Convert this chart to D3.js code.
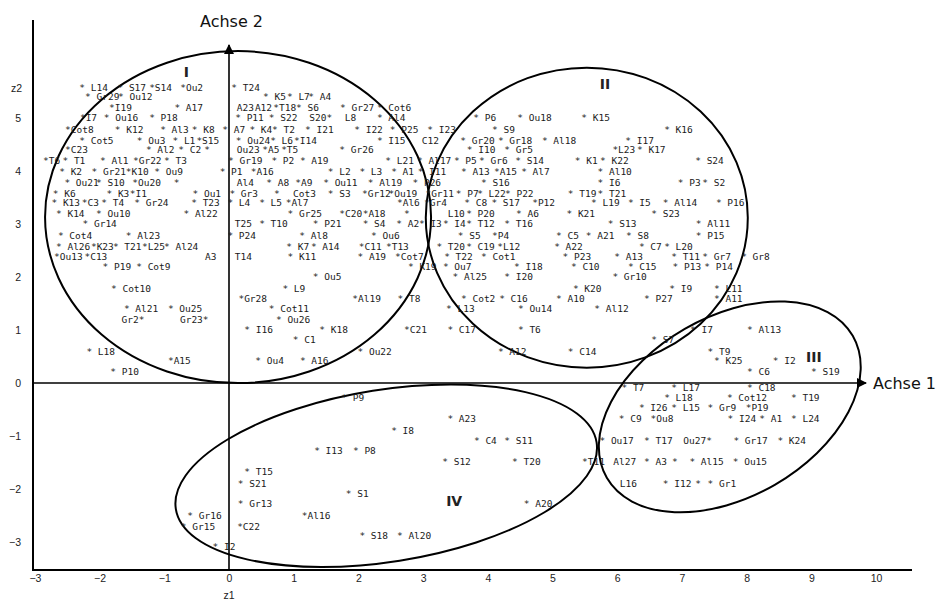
<!DOCTYPE html>
<html><head><meta charset="utf-8">
<script src="https://cdn.jsdelivr.net/npm/d3@7/dist/d3.min.js"></script>
<style>body{margin:0;background:#fff}</style>
</head><body>
<svg id="c" width="940" height="603"></svg>
<script>
const xTicks = [-3,-2,-1,0,1,2,3,4,5,6,7,8,9,10];
const yTicks = [-3,-2,-1,0,1,2,3,4,5];

// labelled points: [text incl. star, x, y]; star is the point
const pointsTop = [
["* L14",-2.27,5.58],["* S17",-1.68,5.58],["*S14",-1.19,5.58],["*Ou2",-0.71,5.58],["* T24",0.08,5.58],
["* Gr29",-2.18,5.40],["* Ou12",-1.67,5.40],["* K5",0.57,5.40],["* L7",0.94,5.40],["* A4",1.27,5.40],
["*I19",-1.81,5.19],["* A17",-0.80,5.19],["A23",0.12,5.19],["A12",0.40,5.19],["*T18",0.73,5.19],["* S6",1.08,5.19],["* Gr27",1.76,5.19],["* Cot6",2.33,5.19],
["*I7",-2.26,5.00],["* Ou16",-1.89,5.00],["* P18",-1.19,5.00],["* P11",0.14,5.00],["* S22",0.66,5.00],["S20*",1.55,5.00],["L8",1.79,5.00],["* Al4",2.33,5.00],["* P6",3.82,5.00],["* Ou18",4.50,5.00],["* K15",5.49,5.00],
["*Cot8",-2.49,4.79],["* K12",-1.72,4.79],["* Al3",-1.02,4.79],["* K8",-0.53,4.79],["* A7",-0.06,4.79],["* K4",0.36,4.79],["* T2",0.71,4.79],["* I21",1.22,4.79],["* I22",1.98,4.79],["* P25",2.53,4.79],["* I23",3.11,4.79],["* S9",4.11,4.79],["* K16",6.77,4.79],
["* Cot5",-2.27,4.58],["* Ou3",-1.38,4.58],["* L1",-0.83,4.58],["*S15",-0.46,4.58],["* Ou24",0.15,4.58],["* L6",0.68,4.58],["*I14",1.05,4.58],["* I15",2.33,4.58],["C12",2.98,4.58],["* Gr20",3.62,4.58],["* Gr18",4.20,4.58],["* Al18",4.88,4.58],["* I17",6.17,4.58],
["*C23",-2.49,4.40],["* Al2",-1.24,4.40],["* C2",-0.74,4.40],["*",-0.34,4.40],["Ou23",0.12,4.40],["*A5",0.56,4.40],["*T5",0.85,4.40],["* Gr26",1.75,4.40],["* I10",3.72,4.40],["* Gr5",4.30,4.40],["*L23",5.97,4.40],["* K17",6.35,4.40],
["*T6",-2.83,4.19],["* T1",-2.53,4.19],["* Al1",-1.95,4.19],["*Gr22",-1.44,4.19],["* T3",-0.96,4.19],["* Gr19",0.03,4.19],["* P2",0.70,4.19],["* A19",1.14,4.19],["* L21",2.46,4.19],["* Al17",2.95,4.19],["* P5",3.52,4.19],["* Gr6",3.91,4.19],["* S14",4.47,4.19],["* K1",5.39,4.19],["* K22",5.78,4.19],["* S24",7.25,4.19],
["* K2",-2.58,3.98],["* Gr21",-2.08,3.98],["*K10",-1.55,3.98],["* Ou9",-1.11,3.98],["* P1",-0.10,3.98],["*A16",0.38,3.98],["* L2",1.57,3.98],["* L3",2.06,3.98],["* A1",2.55,3.98],["* I11",2.96,3.98],["* A13",3.63,3.98],["*A15",4.14,3.98],["* Al7",4.56,3.98],["* Al10",5.74,3.98],
["* Ou21",-2.50,3.79],["* S10",-2.01,3.79],["*Ou20",-1.45,3.79],["*",-0.81,3.79],["Al4",0.12,3.79],["* A8",0.62,3.79],["*A9",1.07,3.79],["* Ou11",1.50,3.79],["* Al19",2.19,3.79],["* P26",2.88,3.79],["* S16",3.94,3.79],["* I6",5.74,3.79],["* P3",6.98,3.79],["* S2",7.36,3.79],
["* K6",-2.68,3.58],["* K3",-1.85,3.58],["*I1",-1.49,3.58],["* Ou1",-0.52,3.58],["* Gr3",0.05,3.58],["*",0.74,3.58],["Cot3",0.99,3.58],["* S3",1.57,3.58],["*Gr12",2.10,3.58],["*Ou19",2.51,3.58],["*Gr11",3.08,3.58],["* P7",3.55,3.58],["* L22",3.88,3.58],["* P22",4.31,3.58],["* T19",5.28,3.58],["* T21",5.74,3.58],
["* K13",-2.70,3.40],["*C3",-2.23,3.40],["* T4",-1.93,3.40],["* Gr24",-1.42,3.40],["* T23",-0.54,3.40],["* L4",0.02,3.40],["* L5",0.51,3.40],["*Al7",0.92,3.40],["*Al6",2.64,3.40],["*Gr4",3.06,3.40],["* C8",3.68,3.40],["* S17",4.10,3.40],["*P12",4.73,3.40],["* L19",5.64,3.40],["* I5",6.21,3.40],["* Al14",6.75,3.40],["* P16",7.57,3.40],
["* K14",-2.63,3.19],["* Ou10",-2.01,3.19],["* Al22",-0.66,3.19],["* Gr25",0.95,3.19],["*C20",1.75,3.19],["*A18",2.11,3.19],["*",2.75,3.19],["L10",3.38,3.19],["* P20",3.71,3.19],["* A6",4.48,3.19],["* K21",5.26,3.19],["* S23",6.57,3.19],
["* Gr14",-2.22,3.00],["T25",0.09,3.00],["* T10",0.51,3.00],["* P21",1.34,3.00],["* S4",2.11,3.00],["* A2",2.63,3.00],["* I3",2.98,3.00],["* I4",3.35,3.00],["* T12",3.71,3.00],["* T16",4.30,3.00],["* S13",5.90,3.00],["* Al11",7.26,3.00]
];
const pointsMiddle = [
["* Cot4",-2.60,2.79],["* Al23",-1.55,2.79],["* P24",0.02,2.79],["* Al8",1.13,2.79],["* Ou6",2.24,2.79],["* S5",3.58,2.79],["*P4",4.11,2.79],["* C5",5.10,2.79],["* A21",5.56,2.79],["* S8",6.18,2.79],["* P15",7.26,2.79],
["* Al26",-2.63,2.58],["*K23",-2.09,2.58],["* T21",-1.75,2.58],["*L25",-1.30,2.58],["* Al24",-0.96,2.58],["* K7",0.93,2.58],["* A14",1.31,2.58],["*C11",2.05,2.58],["*T13",2.47,2.58],["* T20",3.25,2.58],["* C19",3.71,2.58],["*L12",4.19,2.58],["* A22",5.07,2.58],["* C7",6.38,2.58],["* L20",6.77,2.58],
["*Ou13",-2.66,2.38],["*C13",-2.19,2.38],["A3",-0.37,2.38],["T14",0.09,2.38],["* K11",0.95,2.38],["* A19",2.03,2.38],["*Cot7",2.61,2.38],["* T22",3.37,2.38],["* Cot1",3.94,2.38],["* P23",5.20,2.38],["* A13",6.00,2.38],["* T11",6.88,2.38],["* Gr7",7.36,2.38],["* Gr8",7.96,2.38],
["* P19",-1.91,2.19],["* Cot9",-1.39,2.19],["* K19",2.81,2.19],["* Ou7",3.35,2.19],["* I18",4.45,2.19],["* C10",5.33,2.19],["* C15",6.21,2.19],["* P13",6.90,2.19],["* P14",7.39,2.19],
["* Ou5",1.34,2.00],["* Al25",3.50,2.00],["* I20",4.30,2.00],["* Gr10",5.97,2.00],
["* Cot10",-1.78,1.79],["* L9",0.87,1.79],["* K20",5.36,1.79],["* I9",6.85,1.79],["* L11",7.54,1.79],
["*Gr28",0.19,1.60],["*Al19",1.95,1.60],["* T8",2.65,1.60],["* Cot2",3.63,1.60],["* C16",4.22,1.60],["* A10",5.10,1.60],["* P27",6.46,1.60],["* A11",7.54,1.60],
["* Al21",-1.58,1.40],["* Ou25",-0.90,1.40],["* Cot11",0.66,1.40],["* L13",3.40,1.40],["* Ou14",4.51,1.40],["* Al12",5.69,1.40],
["Gr2*",-1.35,1.19],["Gr23*",-0.36,1.19],["* Ou26",0.77,1.19],
["* I16",0.28,1.00],["* K18",1.44,1.00],["*C21",2.75,1.00],["* C17",3.42,1.00],["* T6",4.51,1.00],["* I7",7.17,1.00],["* Al13",8.05,1.00],
["* C1",1.03,0.81],["* S7",6.57,0.81],
["* L18",-2.16,0.60],["* Ou22",2.03,0.60],["* A12",4.20,0.60],["* C14",5.28,0.60],["* T9",7.44,0.60],
["*A15",-0.90,0.42],["* Ou4",0.45,0.42],["* A16",1.14,0.42],["* K25",7.54,0.42],["* I2",8.45,0.42],
["* P10",-1.79,0.21],["* C6",8.05,0.21],["* S19",9.04,0.21]
];
const pointsBottom = [
["* T7",6.11,-0.08],["* L17",6.88,-0.08],["* C18",8.05,-0.08],
["* P9",1.78,-0.28],["* L18",6.77,-0.28],["* Cot12",7.74,-0.28],["* T19",8.73,-0.28],
["* I26",6.38,-0.47],["* L15",6.88,-0.47],["* Gr9",7.44,-0.47],["*P19",8.03,-0.47],
["* A23",3.42,-0.68],["* C9",6.07,-0.68],["*Ou8",6.56,-0.68],["* I24",7.75,-0.68],["* A1",8.24,-0.68],["* L24",8.73,-0.68],
["* I8",2.55,-0.89],
["* C4",3.83,-1.09],["* S11",4.30,-1.09],["* Ou17",5.77,-1.09],["* T17",6.46,-1.09],["Ou27*",7.42,-1.09],["* Gr17",7.84,-1.09],["* K24",8.52,-1.09],
["* I13",1.36,-1.28],["* P8",1.96,-1.28],
["* S12",3.34,-1.49],["* T20",4.42,-1.49],["*T11",5.50,-1.49],["Al27",5.94,-1.49],["* A3",6.46,-1.49],["*",6.89,-1.49],["* Al15",7.16,-1.49],["* Ou15",7.83,-1.49],
["* T15",0.28,-1.68],
["* S21",0.18,-1.89],["L16",6.04,-1.89],["* I12",6.75,-1.89],["*",7.25,-1.89],["* Gr1",7.44,-1.89],
["* S1",1.85,-2.09],
["* Gr13",0.18,-2.28],["* A20",4.60,-2.28],
["* Gr16",-0.60,-2.51],["*Al16",1.17,-2.51],
["* Gr15",-0.70,-2.70],["*C22",0.17,-2.70],
["* S18",2.06,-2.87],["* Al20",2.64,-2.87],
["* I2",-0.21,-3.09]
];
// cluster ellipses: centre in data units, label position in data units
const clusterNames = ["I","II","III","IV"];
const clusterCenters = [[0.14,3.13],[5.53,3.12],[7.74,-0.45],[2.43,-1.75]];
const clusterLabelPos = [[-0.66,5.87],[5.81,5.64],[9.04,0.49],[3.48,-2.23]];

// ---------- drawing ----------
const svg = d3.select("#c");
const x = d3.scaleLinear().domain([-3,10]).range([229-3*64.7, 229+10*64.7]);
const y = d3.scaleLinear().domain([-4,6]).range([383+4*53, 383-6*53]);
const ellipseShape = [[193,166,0],[161,150,0],[142,90,-30],[213,86,-9]]; // semi-axes px, rotation deg

const defs = svg.append("defs");
defs.append("marker").attr("id","arr").attr("viewBox","0 0 10 10").attr("refX",9).attr("refY",5)
  .attr("markerWidth",10).attr("markerHeight",10).attr("markerUnits","userSpaceOnUse").attr("orient","auto")
  .append("path").attr("d","M0,0L10,5L0,10z").attr("fill","#000");

// frame
svg.append("line").attr("x1",33).attr("y1",20).attr("x2",33).attr("y2",570).attr("stroke","#000").attr("stroke-width",2);
svg.append("line").attr("x1",32).attr("y1",570).attr("x2",912).attr("y2",570).attr("stroke","#000").attr("stroke-width",2.2);

// axes through origin
svg.append("line").attr("x1",33).attr("y1",y(0)).attr("x2",866).attr("y2",y(0)).attr("stroke","#000").attr("stroke-width",1.6).attr("marker-end","url(#arr)");
svg.append("line").attr("x1",x(0)).attr("y1",570).attr("x2",x(0)).attr("y2",45).attr("stroke","#000").attr("stroke-width",1.6).attr("marker-end","url(#arr)");

// tick labels
const ax = svg.append("g").attr("transform","translate(0,570)")
  .call(d3.axisBottom(x).tickValues(xTicks).tickSize(0).tickPadding(5).tickFormat(d3.format("d")));
ax.select(".domain").remove();
const ay = svg.append("g").attr("transform","translate(33,0)")
  .call(d3.axisLeft(y).tickValues(yTicks).tickSize(0).tickPadding(12).tickFormat(d3.format("d")));
ay.select(".domain").remove();
svg.selectAll(".tick text").attr("font-family","'Liberation Sans',Arial,sans-serif").attr("font-size",10.5).attr("fill","#222");

svg.append("text").attr("x",22).attr("y",92).attr("text-anchor","end").attr("font-family","'Liberation Sans',Arial,sans-serif").attr("font-size",10.5).attr("fill","#222").text("z2");
svg.append("text").attr("x",x(0)).attr("y",599).attr("text-anchor","middle").attr("font-family","'Liberation Sans',Arial,sans-serif").attr("font-size",10.5).attr("fill","#222").text("z1");

svg.append("text").attr("x",200).attr("y",27).attr("font-family","'DejaVu Sans',sans-serif").attr("font-size",16).attr("fill","#111").text("Achse 2");
svg.append("text").attr("x",873).attr("y",y(0)+6).attr("font-family","'DejaVu Sans',sans-serif").attr("font-size",16).attr("fill","#111").text("Achse 1");

// ellipses
clusterCenters.forEach((c,i)=>{
  const s = ellipseShape[i];
  svg.append("ellipse").attr("transform",`translate(${x(c[0])},${y(c[1])}) rotate(${s[2]})`)
    .attr("rx",s[0]).attr("ry",s[1]).attr("fill","none").attr("stroke","#000").attr("stroke-width",2);
});
svg.selectAll(".clab").data(clusterNames).join("text").attr("class","clab")
  .attr("x",(d,i)=>x(clusterLabelPos[i][0])).attr("y",(d,i)=>y(clusterLabelPos[i][1]))
  .attr("dy","0.36em").attr("text-anchor","middle")
  .attr("font-family","'DejaVu Sans',sans-serif").attr("font-weight","bold").attr("font-size",14).attr("fill","#222")
  .text(d=>d);

// points
const FS = 9.5, half = FS*0.602/2;
const all = pointsTop.concat(pointsMiddle, pointsBottom);
svg.append("g").selectAll("text").data(all).join("text")
  .attr("font-family","'DejaVu Sans Mono',monospace").attr("font-size",FS).attr("fill","#1a1a1a")
  .attr("xml:space","preserve").style("white-space","pre")
  .attr("dy","0.36em")
  .attr("y",d=>y(d[2]))
  .attr("x",d=>{
    const px = x(d[1]);
    if (d[0].startsWith("*")) return px-half;
    if (d[0].endsWith("*")) return px+half;
    return px;
  })
  .attr("text-anchor",d=>(!d[0].startsWith("*") && d[0].endsWith("*"))?"end":"start")
  .text(d=>d[0]);
</script>
</body></html>
